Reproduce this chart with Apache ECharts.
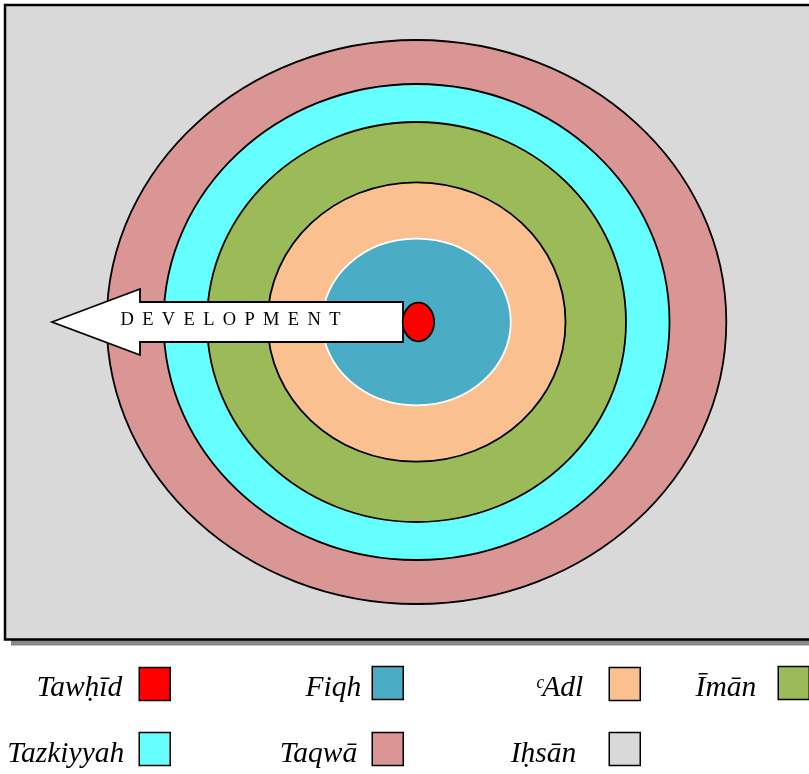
<!DOCTYPE html>
<html><head><meta charset="utf-8">
<script src="https://cdn.jsdelivr.net/npm/echarts@6/dist/echarts.min.js"></script>
<style>html,body{margin:0;padding:0;background:#fff}#c{width:809px;height:774px}</style>
</head><body><div id="c"></div>
<script>
// ---- data ----
// concepts (index 0 = centre, 1..5 = rings inner→outer, 6 = field)
const names   = ['Tawḥīd', 'Fiqh', 'ᶜAdl', 'Īmān', 'Tazkiyyah', 'Taqwā', 'Iḥsān'];
const colors  = ['#FF0000', '#4BACC6', '#FAC090', '#9BBB59', '#66FFFF', '#D99694', '#D9D9D9'];
// ellipse centres and radii in diagram units
const centerX = [1.9, 0, 0, 0, 0, 0];
const centerY = [0, 0, 0, 0, 0, 0];
const radiusX = [15.7, 94.3, 149, 209.5, 253, 309.8];
const radiusY = [19.3, 83.3, 139.7, 200, 238, 282];
// background field extent (Iḥsān)
const fieldX = [-411.5, 400];
const fieldY = [-317.5, 317];
const arrowLabel = 'DEVELOPMENT';

// ---- layout / style (not data) ----
const ARROW = { tip: -364.5, head: -276.5, end: -13.5, headHalf: 33, shaftHalf: 20, labelX: -186, labelY: 1.5 };
const legendPos = [ // [rightEdgePx, topPx, textPadRight, textShiftDown]
  [171, 665, 12, 4], [404, 663, 6, 5], [641, 665, 21, 4], [810, 663, 17, 5],
  [171, 729, 10, 5], [404, 729, 10, 5], [641, 729, 28, 5]
];

const chart = echarts.init(document.getElementById('c'), null, { renderer: 'canvas' });

function ringSeries(i) {
  return {
    type: 'custom', name: names[i], coordinateSystem: 'cartesian2d',
    data: [[centerX[i], centerY[i], radiusX[i], radiusY[i]]],
    encode: { x: 0, y: 1 },
    itemStyle: { color: colors[i] },
    silent: true, clip: false,
    renderItem: function (params, api) {
      const c = api.coord([api.value(0), api.value(1)]);
      const s = api.size([api.value(2), api.value(3)]);
      return {
        type: 'ellipse',
        shape: { cx: c[0], cy: c[1], rx: s[0], ry: s[1] },
        style: { fill: api.visual('color'), stroke: i === 1 ? '#FFFFFF' : '#000000', lineWidth: 1.8 }
      };
    }
  };
}

const series = [];
series.push({
  type: 'custom', name: names[6], coordinateSystem: 'cartesian2d',
  data: [[fieldX[0], fieldY[1], fieldX[1], fieldY[0]]],
  encode: { x: [0, 2], y: [1, 3] },
  itemStyle: { color: colors[6] },
  silent: true, clip: false,
  renderItem: function (params, api) {
    const a = api.coord([api.value(0), api.value(1)]);
    const b = api.coord([api.value(2), api.value(3)]);
    const shape = { x: a[0], y: a[1], width: b[0] - a[0], height: b[1] - a[1] };
    return {
      type: 'group',
      children: [
        { type: 'rect', x: 6, y: 6, shape: shape, style: { fill: '#888888' } },
        { type: 'rect', shape: shape, style: { fill: api.visual('color'), stroke: '#000', lineWidth: 2.5 } }
      ]
    };
  }
});
for (let i = 5; i >= 1; i--) series.push(ringSeries(i));
series.push({
  type: 'custom', name: 'arrow', coordinateSystem: 'cartesian2d',
  data: [[0, 0]], encode: { x: 0, y: 1 }, silent: true, clip: false,
  renderItem: function (params, api) {
    const A = ARROW;
    const pts = [
      [A.tip, 0], [A.head, A.headHalf], [A.head, A.shaftHalf], [A.end, A.shaftHalf],
      [A.end, -A.shaftHalf], [A.head, -A.shaftHalf], [A.head, -A.headHalf]
    ].map(p => api.coord(p));
    const t = api.coord([A.labelX, A.labelY]);
    return {
      type: 'group',
      children: [
        { type: 'polygon', shape: { points: pts }, style: { fill: '#FFFFFF', stroke: '#000', lineWidth: 1.8 } },
        { type: 'text', x: t[0], y: t[1],
          style: { text: arrowLabel.split('').join('\u2009 '), fill: '#000', font: '18.5px "Liberation Serif"',
                   align: 'center', verticalAlign: 'middle' } }
      ]
    };
  }
});
series.push(ringSeries(0));

const legends = names.map(function (n, i) {
  const p = legendPos[i];
  const pt = p[3] * 2;
  return {
    data: [n],
    orient: 'vertical', align: 'right', icon: 'rect',
    right: 809 - p[0], top: p[1], padding: 0,
    itemWidth: 31, itemHeight: 33, selectedMode: false,
    itemStyle: { borderColor: '#000', borderWidth: 1.5 },
    formatter: function (name) { return '{t|' + name + '}'; },
    textStyle: {
      fontFamily: '"Liberation Serif", serif', fontStyle: 'italic', fontSize: 29.5, color: '#000',
      rich: { t: { fontFamily: '"Liberation Serif", serif', fontStyle: 'italic', fontSize: 29.5,
                   color: '#000', lineHeight: 33 - pt, padding: [pt, p[2], 0, 0] } }
    }
  };
});

chart.setOption({
  animation: false,
  grid: { left: 0, right: 0, top: 0, bottom: 0 },
  xAxis: { type: 'value', min: -416.5, max: 392.5, show: false },
  yAxis: { type: 'value', min: -452, max: 322, show: false },
  legend: legends,
  series: series
});
</script>
</body></html>
